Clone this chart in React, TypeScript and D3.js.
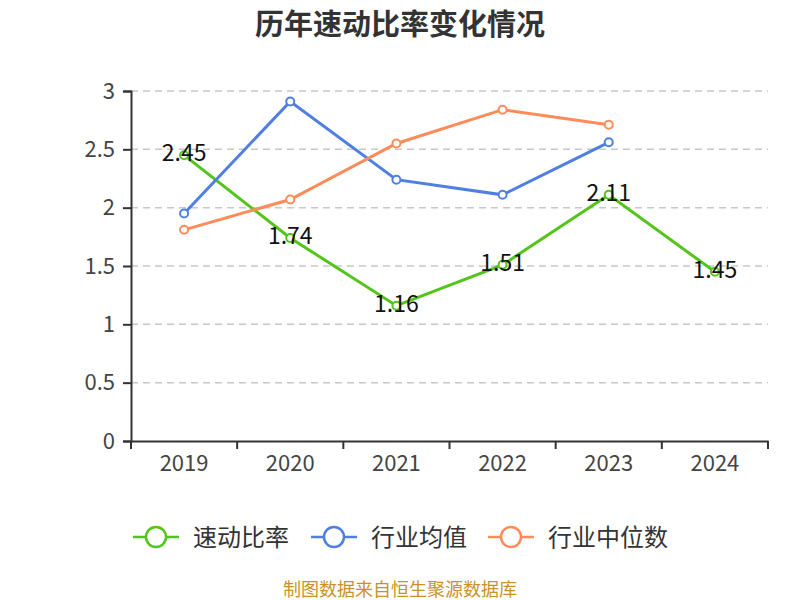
import { useEffect, useRef } from 'react';
import * as d3 from 'd3';

const years = ['2019', '2020', '2021', '2022', '2023', '2024'];
const quickRatio = [2.45, 1.74, 1.16, 1.51, 2.11, 1.45];
const industryMean = [1.95, 2.91, 2.24, 2.11, 2.56, null];
const industryMedian = [1.81, 2.07, 2.55, 2.84, 2.71, null];
const yTicks = [0, 0.5, 1, 1.5, 2, 2.5, 3];

const SERIES = [
  { name: '速动比率', values: quickRatio, color: '#52c41a', labels: true },
  { name: '行业均值', values: industryMean, color: '#4e7fe1', labels: false },
  { name: '行业中位数', values: industryMedian, color: '#ff8b58', labels: false },
];

const FONT = '"Microsoft YaHei", "Noto Sans CJK SC", "Noto Sans", sans-serif';

export default function App() {
  const svgRef = useRef<SVGSVGElement>(null);

  useEffect(() => {
    if (!svgRef.current) return;
    const width = 800;
    const height = 600;
    const svg = d3.select(svgRef.current);
    svg.selectAll('*').remove();
    svg.attr('width', width).attr('height', height).style('font-family', FONT);

    const left = 131, right = 768, top = 91, bottom = 441;

    const x = d3.scaleBand<string>().domain(years).range([left, right]);
    const y = d3.scaleLinear().domain([0, 3]).range([bottom, top]);

    // Title
    svg.append('text')
      .attr('x', 400).attr('y', 35)
      .attr('text-anchor', 'middle')
      .attr('font-size', 29).attr('font-weight', 'bold')
      .attr('fill', '#333')
      .text('历年速动比率变化情况');

    // Grid
    svg.append('g')
      .selectAll('line')
      .data(yTicks.filter(t => t > 0))
      .enter()
      .append('line')
      .attr('x1', left).attr('x2', right)
      .attr('y1', d => y(d)).attr('y2', d => y(d))
      .attr('stroke', '#c8c8c8').attr('stroke-width', 1.5)
      .attr('stroke-dasharray', '7,5');

    // Y axis
    const yAxis = svg.append('g')
      .attr('transform', `translate(${left},0)`)
      .call(d3.axisLeft(y).tickValues(yTicks).tickSize(8).tickPadding(8).tickFormat(d => String(d)));
    yAxis.select('.domain').attr('stroke', '#333').attr('stroke-width', 2);
    yAxis.selectAll('.tick line').attr('stroke', '#333').attr('stroke-width', 2);
    yAxis.selectAll('.tick text').attr('font-size', 22).attr('fill', '#444').attr('font-family', FONT);

    // X axis
    const xAxis = svg.append('g')
      .attr('transform', `translate(0,${bottom})`)
      .call(d3.axisBottom(x).tickSize(0).tickPadding(14));
    xAxis.select('.domain').attr('stroke', '#333').attr('stroke-width', 2);
    xAxis.selectAll('.tick text').attr('font-size', 22).attr('fill', '#444').attr('font-family', FONT);
    xAxis.selectAll('.tick line').remove();
    svg.append('g')
      .selectAll('line')
      .data([...years.map(d => x(d) as number), right])
      .enter()
      .append('line')
      .attr('x1', d => d).attr('x2', d => d)
      .attr('y1', bottom).attr('y2', bottom + 8)
      .attr('stroke', '#333').attr('stroke-width', 2);

    const cx = (d: string) => (x(d) as number) + x.bandwidth() / 2;

    SERIES.forEach(s => {
      const pts = s.values
        .map((v, i) => ({ year: years[i], v }))
        .filter(p => p.v !== null) as { year: string; v: number }[];
      const line = d3.line<{ year: string; v: number }>()
        .x(p => cx(p.year))
        .y(p => y(p.v));
      svg.append('path')
        .datum(pts)
        .attr('d', line)
        .attr('fill', 'none')
        .attr('stroke', s.color)
        .attr('stroke-width', 3);
      svg.append('g')
        .selectAll('circle')
        .data(pts)
        .enter()
        .append('circle')
        .attr('cx', p => cx(p.year))
        .attr('cy', p => y(p.v))
        .attr('r', 4)
        .attr('fill', '#fff')
        .attr('stroke', s.color)
        .attr('stroke-width', 2);
      if (s.labels) {
        svg.append('g')
          .selectAll('text')
          .data(pts)
          .enter()
          .append('text')
          .attr('x', p => cx(p.year))
          .attr('y', p => y(p.v) + 6)
          .attr('text-anchor', 'middle')
          .attr('font-size', 23)
          .attr('fill', '#111')
          .text(p => p.v.toFixed(2));
      }
    });

    // Legend
    const legendX = [133, 311, 488];
    const legend = svg.append('g');
    SERIES.forEach((s, i) => {
      const g = legend.append('g').attr('transform', `translate(${legendX[i]},537)`);
      g.append('line').attr('x1', 0).attr('x2', 46).attr('y1', 0).attr('y2', 0)
        .attr('stroke', s.color).attr('stroke-width', 2.5);
      g.append('circle').attr('cx', 23).attr('cy', 0).attr('r', 10)
        .attr('fill', '#fff').attr('stroke', s.color).attr('stroke-width', 2.5);
      g.append('text').attr('x', 60).attr('y', 9)
        .attr('font-size', 24).attr('fill', '#333')
        .text(s.name);
    });

    // Footer
    svg.append('text')
      .attr('x', 400).attr('y', 596)
      .attr('text-anchor', 'middle')
      .attr('font-size', 18)
      .attr('fill', '#c8922a')
      .text('制图数据来自恒生聚源数据库');
  }, []);

  return <svg ref={svgRef} style={{ position: 'absolute', top: 0, left: 0, background: '#fff' }}></svg>;
}
